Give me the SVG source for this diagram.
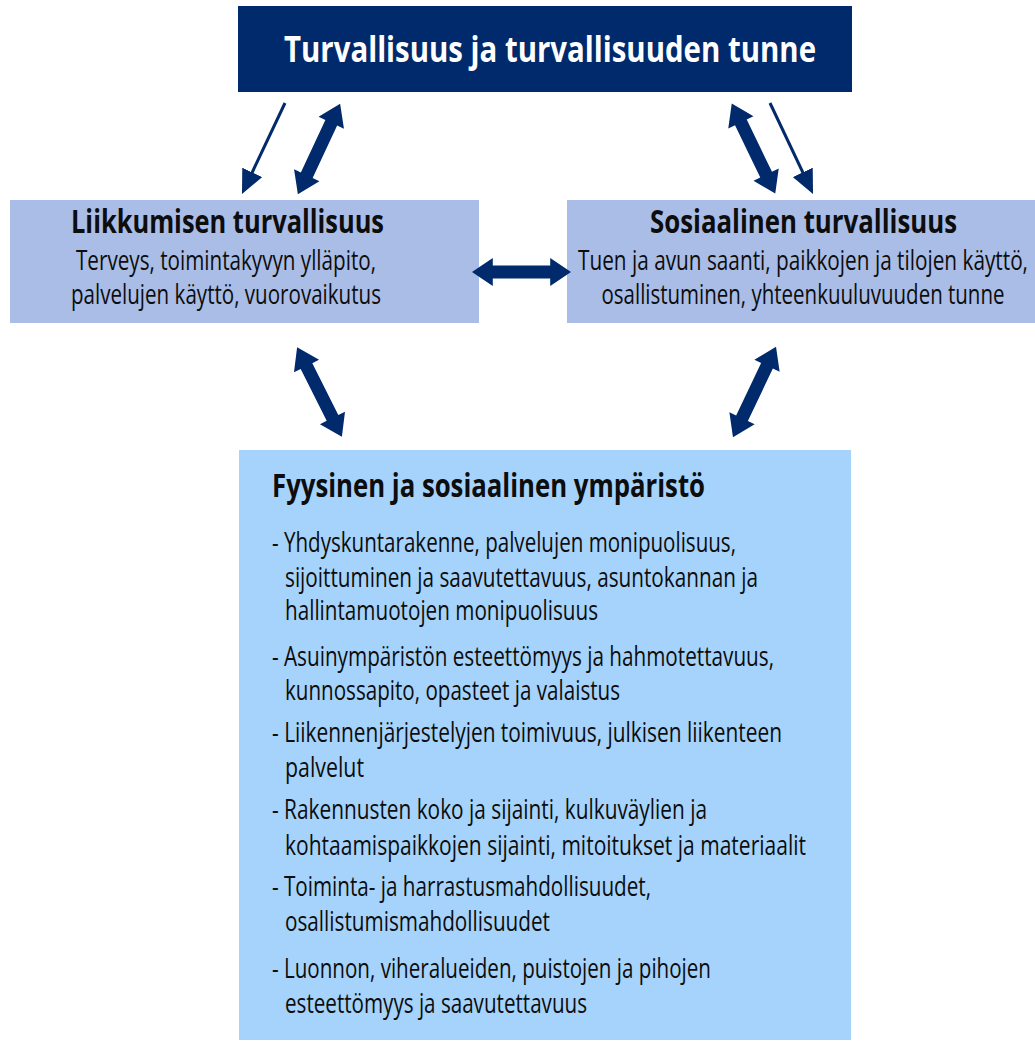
<svg xmlns="http://www.w3.org/2000/svg" xmlns:xlink="http://www.w3.org/1999/xlink" width="1035" height="1041" viewBox="0 0 1035 1041">
<style>
  .t { font-family: "Open Sans", "Noto Sans", "Liberation Sans", sans-serif; fill: #0d0d0d; }
  .hd { font-weight: 700; font-size: 32px; }
  .sub { font-size: 27px; }
  .body { font-size: 27px; }
  .top { font-weight: 700; font-size: 35px; fill: #ffffff; }
  .navy { fill: #002a6b; }
  .blue { fill: #a9bde7; }
  .sky { fill: #a6d3fc; }
  .thin { stroke: #002a6b; stroke-width: 3; fill: none; }
</style>
<defs>
  <path id="dbl" d="M-50,0 L-29,-14 L-29,-6.5 L29,-6.5 L29,-14 L50,0 L29,14 L29,6.5 L-29,6.5 L-29,14 Z" fill="#002a6b"/>
  <marker id="head" viewBox="0 0 24 22" refX="12" refY="11" markerWidth="24" markerHeight="22" markerUnits="userSpaceOnUse" orient="auto">
    <path d="M0,0 L24,11 L0,22 Z" fill="#002a6b"/>
  </marker>
</defs>
<rect width="1035" height="1041" fill="#ffffff"/>

<g id="node-top">
  <rect class="navy" x="238" y="6" width="614" height="86"/>
  <text class="t top" x="550" y="62" text-anchor="middle" textLength="532" lengthAdjust="spacingAndGlyphs">Turvallisuus ja turvallisuuden tunne</text>
</g>

<g id="node-liikkumisen">
  <rect class="blue" x="10" y="200" width="469" height="123"/>
  <text class="t hd" x="227.5" y="233" text-anchor="middle" textLength="313" lengthAdjust="spacingAndGlyphs">Liikkumisen turvallisuus</text>
  <text class="t sub" x="226" y="270" text-anchor="middle" textLength="300" lengthAdjust="spacingAndGlyphs">Terveys, toimintakyvyn ylläpito,</text>
  <text class="t sub" x="226" y="304" text-anchor="middle" textLength="310" lengthAdjust="spacingAndGlyphs">palvelujen käyttö, vuorovaikutus</text>
</g>

<g id="node-sosiaalinen">
  <rect class="blue" x="567" y="200" width="468" height="123"/>
  <text class="t hd" x="803.5" y="233" text-anchor="middle" textLength="307" lengthAdjust="spacingAndGlyphs">Sosiaalinen turvallisuus</text>
  <text class="t sub" x="803" y="270" text-anchor="middle" textLength="450" lengthAdjust="spacingAndGlyphs">Tuen ja avun saanti, paikkojen ja tilojen käyttö,</text>
  <text class="t sub" x="803" y="304" text-anchor="middle" textLength="403" lengthAdjust="spacingAndGlyphs">osallistuminen, yhteenkuuluvuuden tunne</text>
</g>

<g id="node-ymparisto">
  <rect class="sky" x="239" y="450" width="612" height="590"/>
  <text class="t hd" x="272" y="497" textLength="433" lengthAdjust="spacingAndGlyphs">Fyysinen ja sosiaalinen ympäristö</text>
  <text class="t body" x="272" y="552" textLength="464" lengthAdjust="spacingAndGlyphs">- Yhdyskuntarakenne, palvelujen monipuolisuus,</text>
  <text class="t body" x="285" y="587" textLength="473" lengthAdjust="spacingAndGlyphs">sijoittuminen ja saavutettavuus, asuntokannan ja</text>
  <text class="t body" x="285" y="620" textLength="313" lengthAdjust="spacingAndGlyphs">hallintamuotojen monipuolisuus</text>
  <text class="t body" x="272" y="666" textLength="502" lengthAdjust="spacingAndGlyphs">- Asuinympäristön esteettömyys ja hahmotettavuus,</text>
  <text class="t body" x="285" y="700" textLength="335" lengthAdjust="spacingAndGlyphs">kunnossapito, opasteet ja valaistus</text>
  <text class="t body" x="272" y="742" textLength="510" lengthAdjust="spacingAndGlyphs">- Liikennenjärjestelyjen toimivuus, julkisen liikenteen</text>
  <text class="t body" x="285" y="777" textLength="79" lengthAdjust="spacingAndGlyphs">palvelut</text>
  <text class="t body" x="272" y="819" textLength="435" lengthAdjust="spacingAndGlyphs">- Rakennusten koko ja sijainti, kulkuväylien ja</text>
  <text class="t body" x="285" y="855" textLength="521" lengthAdjust="spacingAndGlyphs">kohtaamispaikkojen sijainti, mitoitukset ja materiaalit</text>
  <text class="t body" x="272" y="896" textLength="379" lengthAdjust="spacingAndGlyphs">- Toiminta- ja harrastusmahdollisuudet,</text>
  <text class="t body" x="285" y="931" textLength="265" lengthAdjust="spacingAndGlyphs">osallistumismahdollisuudet</text>
  <text class="t body" x="272" y="978" textLength="439" lengthAdjust="spacingAndGlyphs">- Luonnon, viheralueiden, puistojen ja pihojen</text>
  <text class="t body" x="285" y="1013" textLength="302" lengthAdjust="spacingAndGlyphs">esteettömyys ja saavutettavuus</text>
</g>

<g id="connectors">
  <line class="thin" x1="285" y1="103" x2="247.1" y2="183.2" marker-end="url(#head)"/>
  <line class="thin" x1="770" y1="103" x2="807.9" y2="183.2" marker-end="url(#head)"/>
  <use xlink:href="#dbl" transform="translate(319,149) rotate(115)"/>
  <use xlink:href="#dbl" transform="translate(753.5,148.5) rotate(64.2)"/>
  <use xlink:href="#dbl" transform="translate(521.5,272) scale(0.99,1)"/>
  <use xlink:href="#dbl" transform="translate(319.5,392) rotate(63.4)"/>
  <use xlink:href="#dbl" transform="translate(754.5,392) rotate(115.5)"/>
</g>
</svg>
